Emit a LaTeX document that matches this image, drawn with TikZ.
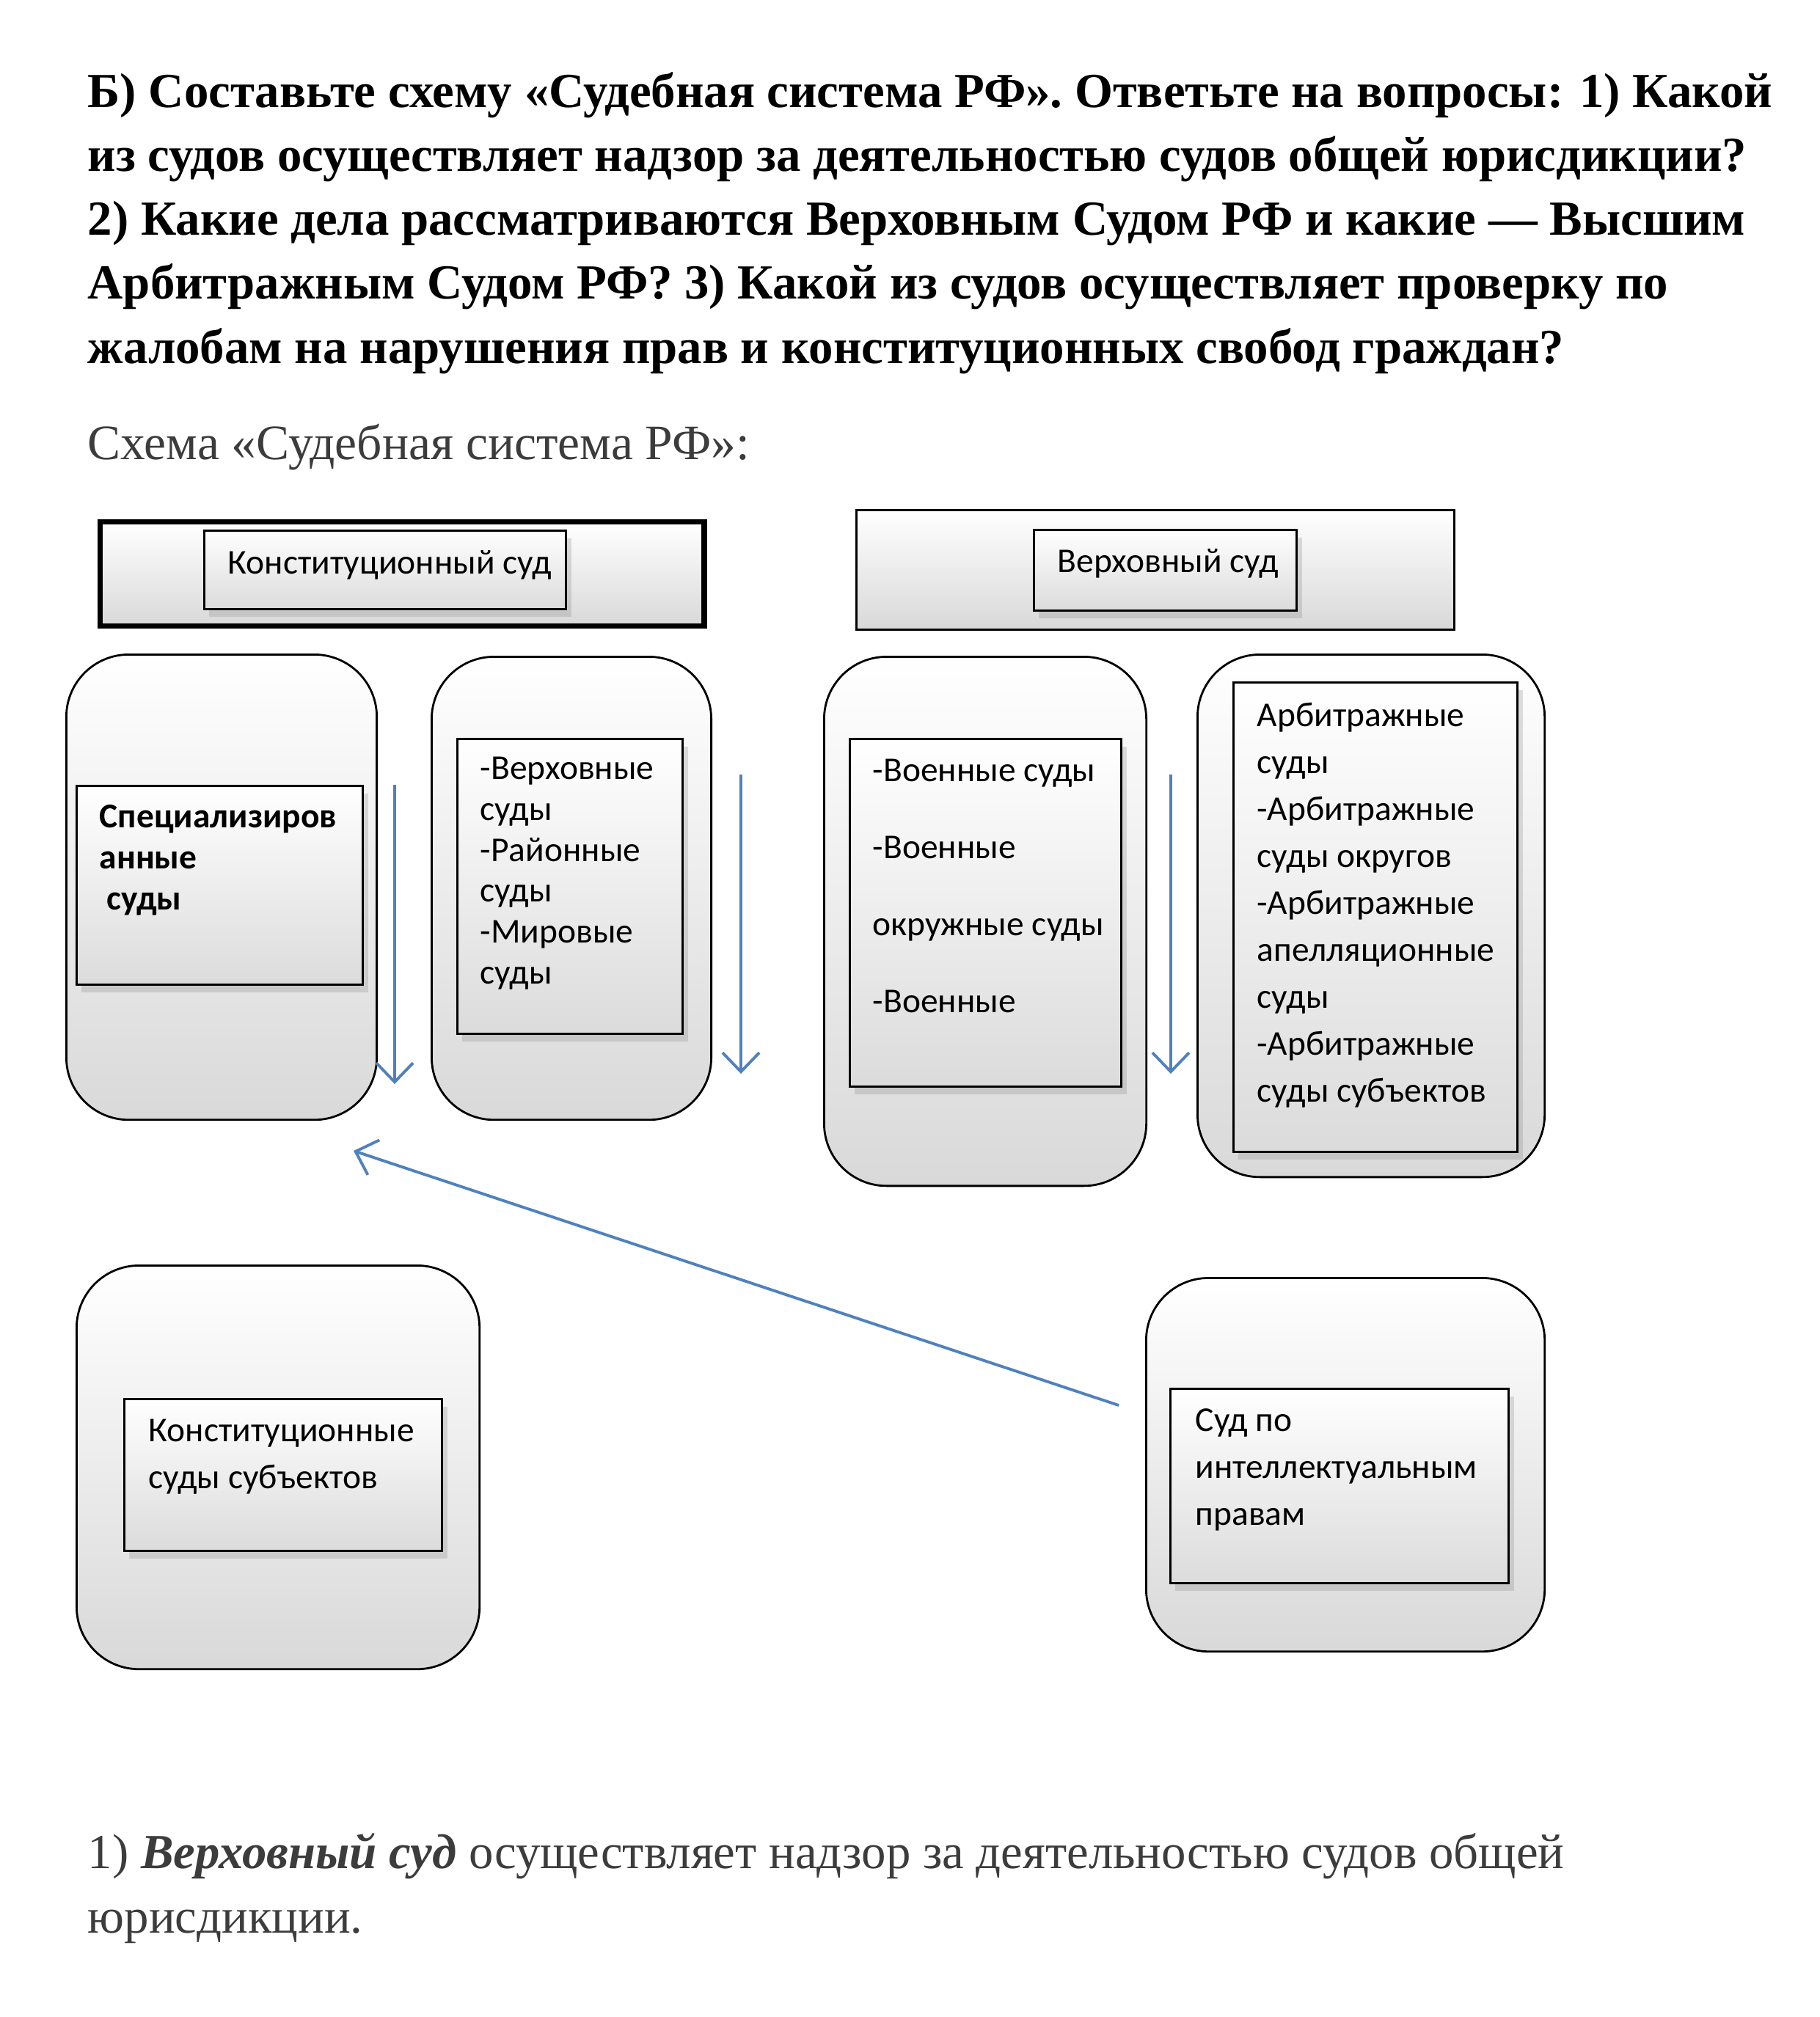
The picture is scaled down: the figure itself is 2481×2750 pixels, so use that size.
\documentclass[tikz,border=0pt]{standalone}
\usepackage{fontspec}
\setmainfont{Liberation Serif}
\newfontfamily\boxfont{Carlito}
\usepackage{xcolor}
\usetikzlibrary{arrows.meta, positioning, shadows}
\definecolor{arrowblue}{RGB}{79, 129, 189}
\definecolor{textgray}{RGB}{60, 60, 60}

\begin{document}
\begin{tikzpicture}[x=0.01cm, y=-0.01cm,
    node distance=0.28cm and 0.33cm,
    outerbox/.style={draw, thick, top color=white, bottom color=black!15,
                     anchor=north west, inner sep=0pt},
    roundbox/.style={outerbox, rounded corners=0.85cm},
    innerbox/.style={draw, thick, top color=white, bottom color=black!14,
                     anchor=north west, inner sep=0pt,
                     drop shadow={opacity=0.25, shadow xshift=2pt, shadow yshift=-3pt}},
    boxtext/.style={inner sep=0pt, align=left,
                    font=\boxfont\fontsize{13.5}{18.2}\selectfont},
    arr/.style={-{Straight Barb[length=2.6mm, width=5mm]}, arrowblue, line width=1.1pt}
  ]
  \useasboundingbox (0,0) rectangle (2481,2750);

  % question and heading (base = last line)
  \node[anchor=base west, inner sep=0pt, align=left,
        font=\bfseries\fontsize{19}{24.8}\selectfont] (question) at (119,495)
    {Б) Составьте схему «Судебная система РФ». Ответьте на вопросы: 1) Какой\\
     из судов осуществляет надзор за деятельностью судов общей юрисдикции?\\
     2) Какие дела рассматриваются Верховным Судом РФ и какие — Высшим\\
     Арбитражным Судом РФ? 3) Какой из судов осуществляет проверку по\\
     жалобам на нарушения прав и конституционных свобод граждан?};
  \node[anchor=base west, inner sep=0pt, text=textgray,
        font=\fontsize{19.2}{25}\selectfont] (heading) at (119,626)
    {Схема «Судебная система РФ»:};

  % top row
  \node[outerbox, line width=2pt, minimum width=8.23cm, minimum height=1.42cm] (ks) at (133,708) {};
  \node[innerbox, minimum width=4.93cm, minimum height=1.07cm] (ksin) at (277,722) {};
  \node[boxtext, below right=0.28cm and 0.33cm of ksin.north west] (kstxt) {Конституционный суд};

  \node[outerbox, minimum width=8.15cm, minimum height=1.63cm] (vs) at (1166,694) {};
  \node[innerbox, minimum width=3.58cm, minimum height=1.10cm] (vsin) at (1408,721) {};
  \node[boxtext, below right=0.27cm and 0.33cm of vsin.north west] (vstxt) {Верховный суд};

  % middle row
  \node[roundbox, minimum width=4.23cm, minimum height=6.34cm] (spec) at (89,891) {};
  \node[innerbox, minimum width=3.90cm, minimum height=2.71cm] (specin) at (103,1070) {};
  \node[boxtext, font=\boxfont\bfseries\fontsize{13.5}{15.9}\selectfont,
        below right=0.27cm and 0.32cm of specin.north west] (spectxt)
    {Специализиров\\анные\\\hspace{0.1cm}суды};

  \node[roundbox, minimum width=3.81cm, minimum height=6.31cm] (obsh) at (587,894) {};
  \node[innerbox, minimum width=3.07cm, minimum height=4.02cm] (obshin) at (622,1006) {};
  \node[boxtext, font=\boxfont\fontsize{13.5}{15.9}\selectfont,
        below right=0.25cm and 0.32cm of obshin.north west] (obshtxt)
    {-Верховные\\суды\\-Районные\\суды\\-Мировые\\суды};

  \node[roundbox, minimum width=4.39cm, minimum height=7.21cm] (voen) at (1122,894) {};
  \node[innerbox, minimum width=3.70cm, minimum height=4.74cm] (voenin) at (1157,1006) {};
  \node[boxtext, font=\boxfont\fontsize{13.5}{29.9}\selectfont,
        below right=0.28cm and 0.32cm of voenin.north west] (voentxt)
    {-Военные суды\\-Военные\\окружные суды\\-Военные};

  \node[roundbox, minimum width=4.73cm, minimum height=7.12cm] (arb) at (1631,891) {};
  \node[innerbox, minimum width=3.87cm, minimum height=6.40cm] (arbin) at (1680,929) {};
  \node[boxtext, below right=0.28cm and 0.33cm of arbin.north west] (arbtxt)
    {Арбитражные\\суды\\-Арбитражные\\суды округов\\-Арбитражные\\апелляционные\\суды\\-Арбитражные\\суды субъектов};

  % bottom row
  \node[roundbox, minimum width=5.49cm, minimum height=5.50cm] (subj) at (103,1724) {};
  \node[innerbox, minimum width=4.33cm, minimum height=2.07cm] (subjin) at (168,1906) {};
  \node[boxtext, below right=0.28cm and 0.34cm of subjin.north west] (subjtxt)
    {Конституционные\\суды субъектов};

  \node[roundbox, minimum width=5.43cm, minimum height=5.09cm] (ip) at (1561,1741) {};
  \node[innerbox, minimum width=4.61cm, minimum height=2.65cm] (ipin) at (1594,1892) {};
  \node[boxtext, below right=0.28cm and 0.35cm of ipin.north west] (iptxt)
    {Суд по\\интеллектуальным\\правам};

  % arrows
  \coordinate (a1s) at (538,1070);  \coordinate (a1e) at (538,1478);
  \coordinate (a2s) at (1010,1056); \coordinate (a2e) at (1010,1464);
  \coordinate (a3s) at (1596,1056); \coordinate (a3e) at (1596,1464);
  \coordinate (a4s) at (1525,1916); \coordinate (a4e) at (482,1569);
  \draw[arr] (a1s) -- (a1e);
  \draw[arr] (a2s) -- (a2e);
  \draw[arr] (a3s) -- (a3e);
  \draw[arr] (a4s) -- (a4e);

  % answer (base = last line)
  \node[anchor=base west, inner sep=0pt, align=left, text=textgray,
        font=\fontsize{19}{25}\selectfont] (answer) at (119,2635)
    {1) \textbf{\textit{Верховный суд}} осуществляет надзор за деятельностью судов общей\\
     юрисдикции.};
\end{tikzpicture}
\end{document}
